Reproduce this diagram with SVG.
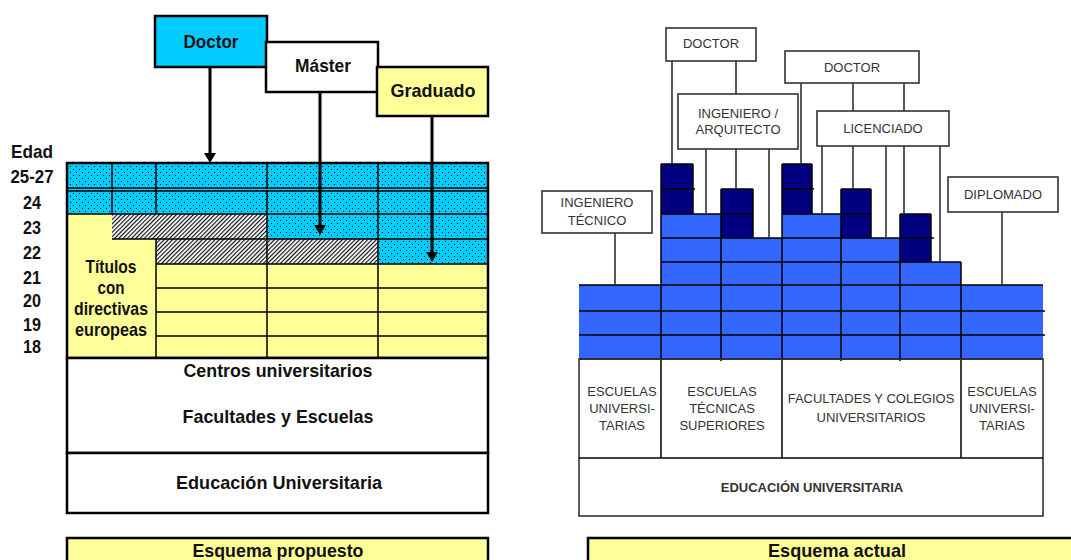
<svg xmlns="http://www.w3.org/2000/svg" width="1071" height="560" viewBox="0 0 1071 560">
<defs>
<pattern id="dots" width="6" height="6" patternUnits="userSpaceOnUse">
<rect width="6" height="6" fill="#00ccff"/>
<rect x="1" y="1" width="1" height="1" fill="#000"/>
<rect x="4" y="4" width="1" height="1" fill="#000"/>
</pattern>
<pattern id="hatch" width="3" height="3" patternUnits="userSpaceOnUse" patternTransform="rotate(45)">
<rect width="3" height="3" fill="#fff"/>
<line x1="0.6" y1="0" x2="0.6" y2="3" stroke="#000" stroke-width="1.1"/>
</pattern>
<marker id="ah" markerUnits="userSpaceOnUse" markerWidth="10" markerHeight="12" refX="0" refY="6" orient="auto" viewBox="0 0 10 12">
<path d="M0,0 L10,6 L0,12 z" fill="#000"/>
</marker>
</defs>
<style>
.lbl{font-family:"Liberation Sans",Arial,sans-serif;font-weight:bold;fill:#111;text-anchor:middle;font-size:19px}
.sm{font-family:"Liberation Sans",Arial,sans-serif;font-size:13px;fill:#333;text-anchor:middle}
.smb{font-family:"Liberation Sans",Arial,sans-serif;font-size:13px;font-weight:bold;fill:#333;text-anchor:middle}
.g{stroke:#000;stroke-width:1.5;fill:none}
.c{stroke:#333;stroke-width:1.6;fill:none}
.box{fill:#fff;stroke:#333;stroke-width:1.6}
.lb{fill:#3366ff}
.db{fill:#000080}
.arr{stroke:#000;stroke-width:3;fill:none}
</style>
<rect width="1071" height="560" fill="#fff"/>

<!-- LEFT: Esquema propuesto -->
<g id="edad-labels">
<text class="lbl" x="32" y="158" textLength="42" lengthAdjust="spacingAndGlyphs">Edad</text>
<text class="lbl" x="32" y="183" textLength="43" lengthAdjust="spacingAndGlyphs">25-27</text>
<text class="lbl" x="32" y="209" textLength="18" lengthAdjust="spacingAndGlyphs">24</text>
<text class="lbl" x="32" y="234" textLength="18" lengthAdjust="spacingAndGlyphs">23</text>
<text class="lbl" x="32" y="259" textLength="18" lengthAdjust="spacingAndGlyphs">22</text>
<text class="lbl" x="32" y="284" textLength="18" lengthAdjust="spacingAndGlyphs">21</text>
<text class="lbl" x="32" y="307" textLength="18" lengthAdjust="spacingAndGlyphs">20</text>
<text class="lbl" x="32" y="331" textLength="18" lengthAdjust="spacingAndGlyphs">19</text>
<text class="lbl" x="32" y="353" textLength="18" lengthAdjust="spacingAndGlyphs">18</text>
</g>

<g id="grid-propuesto">
<rect x="67" y="163" width="421" height="195" fill="#ffff99"/>
<rect x="67" y="163" width="421" height="51" fill="url(#dots)"/>
<rect x="267" y="214" width="221" height="25" fill="url(#dots)"/>
<rect x="378" y="239" width="110" height="25" fill="url(#dots)"/>
<rect x="112" y="214" width="155" height="25" fill="url(#hatch)"/>
<rect x="156" y="239" width="222" height="25" fill="url(#hatch)"/>
<path class="g" d="M67,188 H488 M67,191 H488 M67,214 H488 M112,239 H488 M156,264 H488 M156,288 H488 M156,312 H488 M156,336 H488 M112,163 V214 M156,163 V214 M156,239 V358 M267,163 V358 M378,163 V358"/>
<path d="M67,189.5 H488" stroke="#00ccff" stroke-width="1" stroke-dasharray="3,3"/>
<rect x="67" y="163" width="421" height="195" fill="none" stroke="#000" stroke-width="2.5"/>
<text class="lbl" x="111" y="273" font-size="17" textLength="51" lengthAdjust="spacingAndGlyphs">Títulos</text>
<text class="lbl" x="111" y="294" font-size="17" textLength="27" lengthAdjust="spacingAndGlyphs">con</text>
<text class="lbl" x="111" y="315" font-size="17" textLength="74" lengthAdjust="spacingAndGlyphs">directivas</text>
<text class="lbl" x="111" y="336" font-size="17" textLength="72" lengthAdjust="spacingAndGlyphs">europeas</text>
</g>

<g id="centros">
<rect x="67" y="358" width="421" height="95" fill="#fff" stroke="#000" stroke-width="2.5"/>
<text class="lbl" x="278" y="377" textLength="189" lengthAdjust="spacingAndGlyphs">Centros universitarios</text>
<text class="lbl" x="278" y="423" textLength="191" lengthAdjust="spacingAndGlyphs">Facultades y Escuelas</text>
</g>
<g id="educacion-propuesto">
<rect x="67" y="453" width="421" height="60" fill="#fff" stroke="#000" stroke-width="2.5"/>
<text class="lbl" x="279" y="489" textLength="206" lengthAdjust="spacingAndGlyphs">Educación Universitaria</text>
</g>

<g id="doctor-l">
<rect x="155" y="16" width="112" height="51" fill="#00ccff" stroke="#000" stroke-width="2.5"/>
<text class="lbl" x="211" y="48" textLength="55" lengthAdjust="spacingAndGlyphs">Doctor</text>
</g>
<g id="master-l">
<rect x="266" y="42" width="112" height="50" fill="#fff" stroke="#000" stroke-width="2.5"/>
<text class="lbl" x="323" y="72" textLength="56" lengthAdjust="spacingAndGlyphs">Máster</text>
</g>
<g id="graduado-l">
<rect x="377" y="67" width="111" height="49" fill="#ffff99" stroke="#000" stroke-width="2.5"/>
<text class="lbl" x="433" y="97" textLength="85" lengthAdjust="spacingAndGlyphs">Graduado</text>
</g>

<g id="esquema-propuesto">
<rect x="67" y="538" width="421" height="30" fill="#ffff99" stroke="#000" stroke-width="2.5"/>
<text class="lbl" x="278" y="557" textLength="171" lengthAdjust="spacingAndGlyphs">Esquema propuesto</text>
</g>

<g id="connectors-left">
<path class="arr" d="M210,68 V153" marker-end="url(#ah)"/>
<path class="arr" d="M320,93 V225" marker-end="url(#ah)"/>
<path class="arr" d="M432,117 V252" marker-end="url(#ah)"/>
</g>

<!-- RIGHT: Esquema actual -->
<g id="bloques-actual">
<rect class="lb" x="661" y="214" width="60" height="145"/>
<rect class="lb" x="721" y="238" width="61" height="121"/>
<rect class="lb" x="782" y="214" width="59" height="145"/>
<rect class="lb" x="841" y="238" width="59" height="121"/>
<rect class="lb" x="900" y="262" width="61" height="97"/>
<rect class="lb" x="579" y="285" width="82" height="74"/>
<rect class="lb" x="961" y="285" width="82" height="74"/>
<rect class="db" x="661" y="164" width="32" height="50"/>
<rect class="db" x="721" y="189" width="32" height="49"/>
<rect class="db" x="782" y="164" width="30" height="50"/>
<rect class="db" x="841" y="189" width="30" height="49"/>
<rect class="db" x="900" y="214" width="31" height="48"/>
<path class="g" d="M661,164 H693 M782,164 H812 M661,189 H695 M721,189 H753 M782,189 H814 M841,189 H871 M661,214 H721 M721,214 H753 M782,214 H841 M841,214 H871 M900,214 H931 M661,238 H934 M661,262 H961 M579,285 H1043 M579,311 H1045 M579,335 H1045 M579,359 H1043 M661,164 V458 M693,164 V214 M721,189 V361 M753,189 V238 M782,164 V458 M812,164 V214 M841,189 V361 M871,189 V238 M900,214 V361 M931,214 V262 M961,262 V458"/>
</g>

<g id="centros-actual">
<rect x="579" y="359" width="464" height="157" fill="none" stroke="#333" stroke-width="1.6"/>
<path class="g" d="M579,458 H1043"/>
<text class="sm" x="622" y="396">ESCUELAS</text>
<text class="sm" x="622" y="413">UNIVERSI-</text>
<text class="sm" x="622" y="430">TARIAS</text>
<text class="sm" x="722" y="396">ESCUELAS</text>
<text class="sm" x="722" y="413">TÉCNICAS</text>
<text class="sm" x="722" y="430">SUPERIORES</text>
<text class="sm" x="871" y="403">FACULTADES Y COLEGIOS</text>
<text class="sm" x="871" y="422">UNIVERSITARIOS</text>
<text class="sm" x="1002" y="396">ESCUELAS</text>
<text class="sm" x="1002" y="413">UNIVERSI-</text>
<text class="sm" x="1002" y="430">TARIAS</text>
<text class="smb" x="812" y="492">EDUCACIÓN UNIVERSITARIA</text>
</g>

<g id="doctor-1">
<rect class="box" x="666" y="28" width="90" height="33"/>
<text class="sm" x="711" y="48">DOCTOR</text>
</g>
<g id="ingeniero-arquitecto">
<rect class="box" x="678" y="94" width="120" height="55"/>
<text class="sm" x="738" y="118">INGENIERO /</text>
<text class="sm" x="738" y="134">ARQUITECTO</text>
</g>
<g id="doctor-2">
<rect class="box" x="785" y="51" width="134" height="32"/>
<text class="sm" x="852" y="72">DOCTOR</text>
</g>
<g id="licenciado">
<rect class="box" x="817" y="111" width="132" height="35"/>
<text class="sm" x="883" y="133">LICENCIADO</text>
</g>
<g id="diplomado">
<rect class="box" x="948" y="177" width="110" height="35"/>
<text class="sm" x="1003" y="199">DIPLOMADO</text>
</g>
<g id="ingeniero-tecnico">
<rect class="box" x="542" y="191" width="110" height="42"/>
<text class="sm" x="597" y="207">INGENIERO</text>
<text class="sm" x="597" y="225">TÉCNICO</text>
</g>

<g id="connectors-right">
<path class="c" d="M672,61 V164 M736,61 V94 M706,149 V214 M736,149 V189 M769,149 V238 M801,83 V164 M853,83 V111 M904,83 V111 M822,146 V214 M853,146 V189 M886,146 V238 M904,146 V214 M940,146 V262 M1002,212 V285 M615,233 V285"/>
</g>

<g id="esquema-actual">
<rect x="588" y="538" width="490" height="30" fill="#ffff99" stroke="#000" stroke-width="2.5"/>
<text class="lbl" x="837" y="557" textLength="138" lengthAdjust="spacingAndGlyphs">Esquema actual</text>
</g>
</svg>
